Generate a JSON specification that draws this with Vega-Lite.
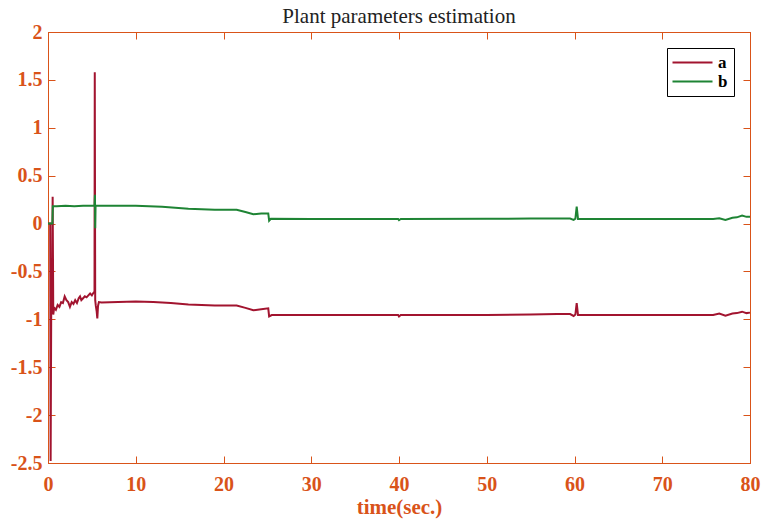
{
  "$schema": "https://vega.github.io/schema/vega-lite/v6.json",
  "width": 702,
  "height": 431,
  "autosize": "none",
  "padding": {"left": 48, "top": 32, "right": 13, "bottom": 60},
  "background": "white",
  "config": {
    "view": {"stroke": "#D95319", "strokeWidth": 1},
    "font": "Liberation Serif"
  },
  "title": {
    "text": "Plant parameters estimation",
    "font": "Liberation Serif",
    "fontSize": 21,
    "fontWeight": "normal",
    "color": "#222222",
    "offset": -5
  },
  "data": {
    "values": [
      {"t": 0, "v": 0, "s": "a"},
      {"t": 0.25, "v": 0, "s": "a"},
      {"t": 0.3, "v": -2.48, "s": "a"},
      {"t": 0.38, "v": -0.6, "s": "a"},
      {"t": 0.45, "v": -0.95, "s": "a"},
      {"t": 0.53, "v": 0.28, "s": "a"},
      {"t": 0.6, "v": -0.95, "s": "a"},
      {"t": 0.7, "v": -0.88, "s": "a"},
      {"t": 0.9, "v": -0.9, "s": "a"},
      {"t": 1.1, "v": -0.85, "s": "a"},
      {"t": 1.3, "v": -0.87, "s": "a"},
      {"t": 1.5, "v": -0.82, "s": "a"},
      {"t": 1.7, "v": -0.83, "s": "a"},
      {"t": 1.9, "v": -0.76, "s": "a"},
      {"t": 2.1, "v": -0.8, "s": "a"},
      {"t": 2.3, "v": -0.82, "s": "a"},
      {"t": 2.5, "v": -0.87, "s": "a"},
      {"t": 2.7, "v": -0.82, "s": "a"},
      {"t": 2.9, "v": -0.84, "s": "a"},
      {"t": 3.1, "v": -0.8, "s": "a"},
      {"t": 3.3, "v": -0.83, "s": "a"},
      {"t": 3.5, "v": -0.78, "s": "a"},
      {"t": 3.65, "v": -0.76, "s": "a"},
      {"t": 3.8, "v": -0.8, "s": "a"},
      {"t": 4.0, "v": -0.78, "s": "a"},
      {"t": 4.2, "v": -0.76, "s": "a"},
      {"t": 4.4, "v": -0.77, "s": "a"},
      {"t": 4.6, "v": -0.75, "s": "a"},
      {"t": 4.8, "v": -0.73, "s": "a"},
      {"t": 5.0, "v": -0.75, "s": "a"},
      {"t": 5.2, "v": -0.72, "s": "a"},
      {"t": 5.3, "v": -0.71, "s": "a"},
      {"t": 5.33, "v": 1.58, "s": "a"},
      {"t": 5.38, "v": -0.8, "s": "a"},
      {"t": 5.45, "v": -0.86, "s": "a"},
      {"t": 5.55, "v": -0.92, "s": "a"},
      {"t": 5.62, "v": -0.99, "s": "a"},
      {"t": 5.7, "v": -0.86, "s": "a"},
      {"t": 5.8, "v": -0.82, "s": "a"},
      {"t": 6.1, "v": -0.825, "s": "a"},
      {"t": 8, "v": -0.82, "s": "a"},
      {"t": 10, "v": -0.815, "s": "a"},
      {"t": 12, "v": -0.82, "s": "a"},
      {"t": 14, "v": -0.83, "s": "a"},
      {"t": 16, "v": -0.845, "s": "a"},
      {"t": 19, "v": -0.855, "s": "a"},
      {"t": 21.5, "v": -0.855, "s": "a"},
      {"t": 22.5, "v": -0.88, "s": "a"},
      {"t": 23.4, "v": -0.905, "s": "a"},
      {"t": 24.3, "v": -0.895, "s": "a"},
      {"t": 25.1, "v": -0.885, "s": "a"},
      {"t": 25.2, "v": -0.97, "s": "a"},
      {"t": 25.5, "v": -0.955, "s": "a"},
      {"t": 30, "v": -0.955, "s": "a"},
      {"t": 39.9, "v": -0.955, "s": "a"},
      {"t": 40.0, "v": -0.97, "s": "a"},
      {"t": 40.2, "v": -0.955, "s": "a"},
      {"t": 50, "v": -0.955, "s": "a"},
      {"t": 55, "v": -0.95, "s": "a"},
      {"t": 58, "v": -0.945, "s": "a"},
      {"t": 59.5, "v": -0.945, "s": "a"},
      {"t": 59.9, "v": -0.965, "s": "a"},
      {"t": 60.1, "v": -0.95, "s": "a"},
      {"t": 60.25, "v": -0.83, "s": "a"},
      {"t": 60.4, "v": -0.955, "s": "a"},
      {"t": 70, "v": -0.955, "s": "a"},
      {"t": 75.8, "v": -0.955, "s": "a"},
      {"t": 76.5, "v": -0.94, "s": "a"},
      {"t": 77.2, "v": -0.962, "s": "a"},
      {"t": 78, "v": -0.94, "s": "a"},
      {"t": 78.5, "v": -0.935, "s": "a"},
      {"t": 79.1, "v": -0.92, "s": "a"},
      {"t": 79.6, "v": -0.935, "s": "a"},
      {"t": 80, "v": -0.93, "s": "a"},
      {"t": 0, "v": 0, "s": "b"},
      {"t": 0.5, "v": 0, "s": "b"},
      {"t": 0.55, "v": 0.18, "s": "b"},
      {"t": 1, "v": 0.18, "s": "b"},
      {"t": 2, "v": 0.185, "s": "b"},
      {"t": 3, "v": 0.18, "s": "b"},
      {"t": 4, "v": 0.185, "s": "b"},
      {"t": 5.3, "v": 0.185, "s": "b"},
      {"t": 5.35, "v": 0.3, "s": "b"},
      {"t": 5.38, "v": -0.05, "s": "b"},
      {"t": 5.42, "v": 0.185, "s": "b"},
      {"t": 6, "v": 0.187, "s": "b"},
      {"t": 10, "v": 0.185, "s": "b"},
      {"t": 13, "v": 0.175, "s": "b"},
      {"t": 16, "v": 0.155, "s": "b"},
      {"t": 19, "v": 0.145, "s": "b"},
      {"t": 21.5, "v": 0.145, "s": "b"},
      {"t": 22.5, "v": 0.12, "s": "b"},
      {"t": 23.4, "v": 0.097, "s": "b"},
      {"t": 24.3, "v": 0.105, "s": "b"},
      {"t": 25.1, "v": 0.105, "s": "b"},
      {"t": 25.2, "v": 0.03, "s": "b"},
      {"t": 25.4, "v": 0.05, "s": "b"},
      {"t": 30, "v": 0.048, "s": "b"},
      {"t": 39.9, "v": 0.048, "s": "b"},
      {"t": 40.0, "v": 0.035, "s": "b"},
      {"t": 40.2, "v": 0.048, "s": "b"},
      {"t": 50, "v": 0.05, "s": "b"},
      {"t": 55, "v": 0.052, "s": "b"},
      {"t": 59.5, "v": 0.052, "s": "b"},
      {"t": 59.9, "v": 0.038, "s": "b"},
      {"t": 60.1, "v": 0.05, "s": "b"},
      {"t": 60.25, "v": 0.176, "s": "b"},
      {"t": 60.4, "v": 0.048, "s": "b"},
      {"t": 70, "v": 0.048, "s": "b"},
      {"t": 75.8, "v": 0.048, "s": "b"},
      {"t": 76.5, "v": 0.055, "s": "b"},
      {"t": 77.2, "v": 0.038, "s": "b"},
      {"t": 78, "v": 0.06, "s": "b"},
      {"t": 78.5, "v": 0.065, "s": "b"},
      {"t": 79.1, "v": 0.083, "s": "b"},
      {"t": 79.6, "v": 0.07, "s": "b"},
      {"t": 80, "v": 0.072, "s": "b"}
    ]
  },
  "layer": [
    {
      "mark": {"type": "line", "strokeWidth": 2, "interpolate": "linear"},
      "encoding": {
        "x": {
          "field": "t", "type": "quantitative",
          "scale": {"domain": [0, 80], "nice": false, "zero": false},
          "axis": {
            "orient": "bottom",
            "values": [0, 10, 20, 30, 40, 50, 60, 70, 80],
            "labelExpr": "toString(datum.value)",
            "grid": false,
            "domainColor": "#D95319",
            "tickColor": "#D95319",
            "tickSize": -7,
            "labelPadding": 18,
            "labelFont": "Liberation Serif",
            "labelFontSize": 20,
            "labelFontWeight": "bold",
            "labelColor": "#D95319",
            "labelFlush": false,
            "title": "time(sec.)",
            "titleFont": "Liberation Serif",
            "titleFontSize": 21,
            "titleFontWeight": "bold",
            "titleColor": "#D95319",
            "titlePadding": 2
          }
        },
        "y": {
          "field": "v", "type": "quantitative",
          "scale": {"domain": [-2.5, 2], "nice": false, "zero": false},
          "axis": {
            "orient": "left",
            "values": [-2.5, -2, -1.5, -1, -0.5, 0, 0.5, 1, 1.5, 2],
            "labelExpr": "toString(datum.value)",
            "grid": false,
            "domainColor": "#D95319",
            "tickColor": "#D95319",
            "tickSize": -7,
            "labelPadding": 13,
            "labelFont": "Liberation Serif",
            "labelFontSize": 20,
            "labelFontWeight": "bold",
            "labelColor": "#D95319",
            "labelFlush": false,
            "title": null
          }
        },
        "color": {
          "field": "s", "type": "nominal",
          "scale": {"domain": ["a", "b"], "range": ["#A2142F", "#1E8434"]},
          "legend": {
            "orient": "none",
            "legendX": 619,
            "legendY": 16,
            "title": null,
            "direction": "vertical",
            "strokeColor": "#000000",
            "fillColor": "#ffffff",
            "padding": 6,
            "rowPadding": 1,
            "symbolType": "M-2.25,0H7.75",
            "symbolSize": 64,
            "symbolStrokeWidth": 2,
            "labelOffset": 28,
            "labelFont": "Liberation Serif",
            "labelFontSize": 17,
            "labelFontWeight": "bold",
            "labelColor": "#000000"
          }
        }
      }
    },
    {
      "mark": {"type": "point", "opacity": 0, "size": 1},
      "encoding": {
        "x": {
          "field": "t", "type": "quantitative",
          "axis": {
            "orient": "top",
            "values": [0, 10, 20, 30, 40, 50, 60, 70, 80],
            "labels": false,
            "grid": false,
            "domainColor": "#D95319",
            "tickColor": "#D95319",
            "tickSize": -7,
            "title": null
          }
        },
        "y": {
          "field": "v", "type": "quantitative",
          "axis": {
            "orient": "right",
            "values": [-2.5, -2, -1.5, -1, -0.5, 0, 0.5, 1, 1.5, 2],
            "labels": false,
            "grid": false,
            "domainColor": "#D95319",
            "tickColor": "#D95319",
            "tickSize": -7,
            "title": null
          }
        }
      }
    }
  ]
}
